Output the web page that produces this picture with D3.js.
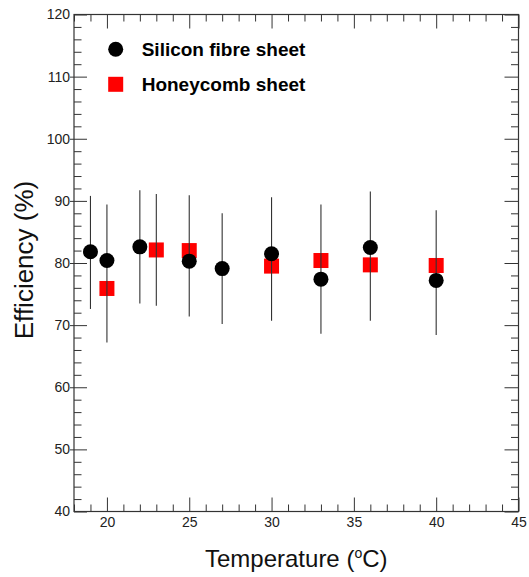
<!DOCTYPE html>
<html>
<head>
<meta charset="utf-8">
<script src="https://cdn.jsdelivr.net/npm/d3@7"></script>
<style>
  body { margin: 0; background: #fff; }
  svg text { font-family: "Liberation Sans", Arial, sans-serif; }
</style>
</head>
<body>
<svg id="chart" width="529" height="577"></svg>
<script>
const siliconTemp = [19, 20, 22, 25, 27, 30, 33, 36, 40];
const siliconEff = [81.8, 80.4, 82.6, 80.3, 79.1, 81.5, 77.4, 82.5, 77.2];
const honeycombTemp = [20, 23, 25, 30, 33, 36, 40];
const honeycombEff = [75.9, 82.1, 82.0, 79.5, 80.4, 79.7, 79.6];
// one error bar per temperature
const errTemp = [19, 20, 22, 23, 25, 27, 30, 33, 36, 40];
const errLow = [72.6, 67.2, 73.5, 73.1, 71.4, 70.2, 70.7, 68.6, 70.7, 68.4];
const errHigh = [90.8, 89.4, 91.7, 91.1, 90.9, 88.0, 90.6, 89.4, 91.5, 88.5];
const xTicks = [20, 25, 30, 35, 40, 45];
const yTicks = [40, 50, 60, 70, 80, 90, 100, 110, 120];
const seriesNames = ['Silicon fibre sheet', 'Honeycomb sheet'];

const plotLeft = 74, plotRight = 518.5, plotTop = 14.5, plotBottom = 511.5;
const axisColor = '#333';

const x = d3.scaleLinear().domain([18, 45]).range([plotLeft, plotRight]);
const y = d3.scaleLinear().domain([40, 120]).range([plotBottom, plotTop]);

const svg = d3.select('#chart');

const xMinor = d3.range(18, 46, 1).filter(d => !xTicks.includes(d));
const yMinor = d3.range(40, 121, 2).filter(d => !yTicks.includes(d));

function styleAxis(g) {
  g.select('.domain').remove();
  g.selectAll('.tick line').attr('stroke', axisColor);
  g.selectAll('.tick text').attr('fill', '#222').style('font-size', '14px');
}

// bottom
svg.append('g').attr('transform', `translate(0,${plotBottom})`)
  .call(d3.axisBottom(x).tickValues(xMinor).tickSize(-7).tickFormat(''))
  .call(styleAxis);
svg.append('g').attr('transform', `translate(0,${plotBottom})`)
  .call(d3.axisBottom(x).tickValues(xTicks).tickSize(-14).tickPadding(5.5).tickFormat(d3.format('d')))
  .call(styleAxis);
// top
svg.append('g').attr('transform', `translate(0,${plotTop})`)
  .call(d3.axisTop(x).tickValues(xMinor).tickSize(-7).tickFormat(''))
  .call(styleAxis);
svg.append('g').attr('transform', `translate(0,${plotTop})`)
  .call(d3.axisTop(x).tickValues(xTicks).tickSize(-14).tickFormat(''))
  .call(styleAxis);
// left
svg.append('g').attr('transform', `translate(${plotLeft},0)`)
  .call(d3.axisLeft(y).tickValues(yMinor).tickSize(-7.5).tickFormat(''))
  .call(styleAxis);
svg.append('g').attr('transform', `translate(${plotLeft},0)`)
  .call(d3.axisLeft(y).tickValues(yTicks).tickSize(-13).tickPadding(4).tickFormat(d3.format('d')))
  .call(styleAxis)
  .call(g => g.selectAll('.tick line').filter(d => d !== 40 && d !== 120).attr('x1', -4));
// right
svg.append('g').attr('transform', `translate(${plotRight},0)`)
  .call(d3.axisRight(y).tickValues(yMinor).tickSize(-7.5).tickFormat(''))
  .call(styleAxis);
svg.append('g').attr('transform', `translate(${plotRight},0)`)
  .call(d3.axisRight(y).tickValues(yTicks).tickSize(-14).tickFormat(''))
  .call(styleAxis);

// frame
svg.append('rect')
  .attr('x', plotLeft).attr('y', plotTop)
  .attr('width', plotRight - plotLeft).attr('height', plotBottom - plotTop)
  .attr('fill', 'none').attr('stroke', axisColor).attr('stroke-width', 1.2);

// honeycomb squares
const sq = 15;
svg.append('g').selectAll('rect')
  .data(honeycombTemp)
  .enter()
  .append('rect')
    .attr('x', d => x(d) - sq / 2)
    .attr('y', (d, i) => y(honeycombEff[i]) - sq / 2)
    .attr('width', sq)
    .attr('height', sq)
    .attr('fill', '#ff0000');

// error bars
svg.append('g').selectAll('line')
  .data(errTemp)
  .enter()
  .append('line')
    .attr('x1', d => x(d)).attr('x2', d => x(d))
    .attr('y1', (d, i) => y(errLow[i]))
    .attr('y2', (d, i) => y(errHigh[i]))
    .attr('stroke', '#333')
    .attr('stroke-width', 1.1);

// silicon circles
svg.append('g').selectAll('circle')
  .data(siliconTemp)
  .enter()
  .append('circle')
    .attr('cx', d => x(d))
    .attr('cy', (d, i) => y(siliconEff[i]))
    .attr('r', 7.5)
    .attr('fill', '#000');

// legend
const legend = svg.append('g');
legend.append('circle').attr('cx', 115.7).attr('cy', 49.3).attr('r', 7.5).attr('fill', '#000');
legend.append('rect').attr('x', 115.7 - sq / 2).attr('y', 84.3 - sq / 2)
  .attr('width', sq).attr('height', sq).attr('fill', '#ff0000');
legend.selectAll('text')
  .data(seriesNames)
  .enter()
  .append('text')
    .attr('x', 141.7)
    .attr('y', (d, i) => 55.8 + i * 35)
    .style('font-size', '19px')
    .style('font-weight', 'bold')
    .attr('fill', '#000')
    .text(d => d);

// axis titles
const xLabel = svg.append('text')
  .attr('x', (plotLeft + plotRight) / 2)
  .attr('y', 567)
  .attr('text-anchor', 'middle')
  .style('font-size', '24px')
  .attr('fill', '#111');
xLabel.append('tspan').text('Temperature (');
xLabel.append('tspan').attr('dy', -9).style('font-size', '14px').text('o');
xLabel.append('tspan').attr('dy', 9).text('C)');

svg.append('text')
  .attr('transform', 'translate(33,260) rotate(-90)')
  .attr('text-anchor', 'middle')
  .style('font-size', '26px')
  .attr('fill', '#111')
  .text('Efficiency (%)');
</script>
</body>
</html>
